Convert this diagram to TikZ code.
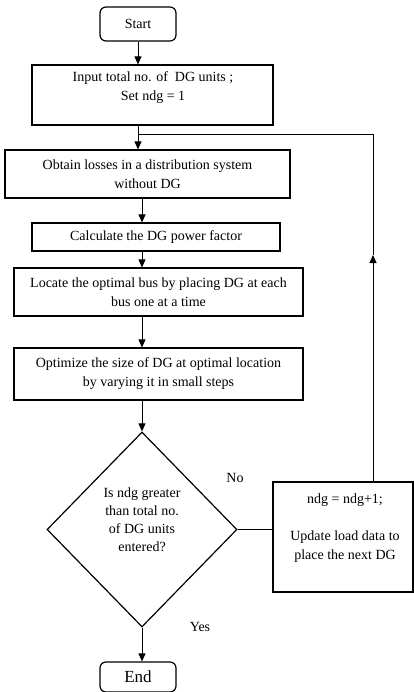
\documentclass[tikz,border=0pt]{standalone}
\usepackage{fontspec}
\setmainfont{Liberation Serif}
\usetikzlibrary{shapes.geometric,arrows.meta,calc}
\begin{document}
\begin{tikzpicture}[x=1pt,y=-1pt,
  box/.style={draw, line width=1.2pt, inner sep=0pt, font=\fontsize{14}{19}\selectfont, align=center},
  term/.style={box, rounded corners=6pt},
  arr/.style={line width=1pt, -{Triangle[length=8pt,width=7pt]}},
  conn/.style={line width=1pt},
  lbl/.style={font=\fontsize{14}{19}\selectfont, inner sep=0pt, align=center}]
\useasboundingbox (0,0) rectangle (414,692);
% boxes
\node[term, minimum width=76pt, minimum height=34pt] (start) at (138,24) {Start};
\node[box, minimum width=241pt, minimum height=60pt] (input) at (152.5,95) {};
\node[lbl] (inputt) at (153,88) {Input total no. of\ \ DG units ;\\Set ndg = 1};
\node[box, minimum width=285pt, minimum height=48pt] (obtain) at (147.5,174) {Obtain losses in a distribution system\\without DG};
\node[box, minimum width=248pt, minimum height=28pt] (calc) at (156,237) {Calculate the DG power factor};
\node[box, minimum width=289pt, minimum height=48pt] (locate) at (158.5,292) {Locate the optimal bus by placing DG at each\\bus one at a time};
\node[box, minimum width=289pt, minimum height=52pt] (optim) at (158.5,374) {Optimize the size of DG at optimal location\\by varying it in small steps};
\node[draw, diamond, line width=1.2pt, inner sep=0pt, minimum width=190pt, minimum height=195pt] (dec) at (142,529.5) {};
\node[lbl, font=\fontsize{14}{18}\selectfont] (dect) at (142,520) {Is ndg greater\\than total no.\\of DG units\\entered?};
\node[box, minimum width=140pt, minimum height=110pt] (upd) at (343,537) {};
\node[lbl, font=\fontsize{14}{18.5}\selectfont] (updt) at (345,528) {ndg = ndg+1;\\[18.5pt]Update load data to\\place the next DG};
\node[term, minimum width=76pt, minimum height=30pt, font=\fontsize{17}{20}\selectfont] (end) at (138,677) {End};
% labels
\node[lbl] (no) at (235,478) {No};
\node[lbl] (yes) at (200,627) {Yes};
% connectors
\coordinate (ret) at (373,135);
\coordinate (tip) at (373,255);
\draw[arr] (start.south) -- (start.south |- input.north);
\draw[arr] (start.south |- input.south) -- (start.south |- obtain.north);
\draw[arr] (dec.north |- obtain.south) -- (dec.north |- calc.north);
\draw[arr] (dec.north |- calc.south) -- (dec.north |- locate.north);
\draw[arr] (dec.north |- locate.south) -- (dec.north |- optim.north);
\draw[arr] (dec.north |- optim.south) -- (dec.north);
\draw[arr] (dec.south) -- (dec.south |- end.north);
\draw[conn] (dec.east) -- (dec.east -| upd.west);
\draw[arr] (upd.north -| ret) -- (tip);
\draw[conn] (tip) -- (ret) -- (ret -| start.south);
\end{tikzpicture}
\end{document}
